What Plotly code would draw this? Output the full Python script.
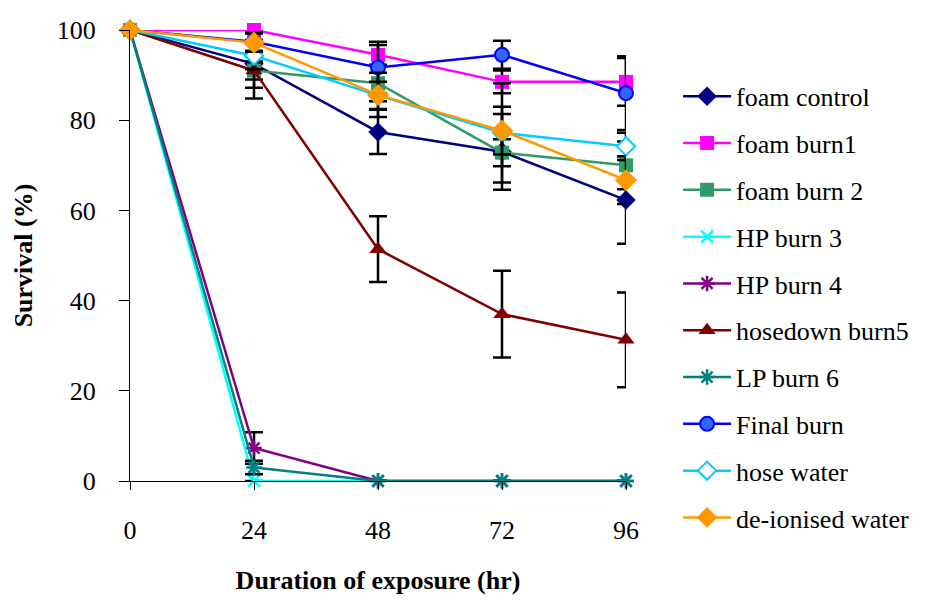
import plotly.graph_objects as go

hours = [0, 24, 48, 72, 96]
tick_labels = ["0", "24", "48", "72", "96"]

series_names = ["foam control", "foam burn1", "foam burn 2", "HP burn 3", "HP burn 4",
                "hosedown burn5", "LP burn 6", "Final burn", "hose water", "de-ionised water"]

foam_control = [100, 92.5, 77.4, 73.0, 62.3]
foam_burn1 = [100, 100, 94.5, 88.5, 88.5]
foam_burn2 = [100, 91.0, 88.2, 72.8, 70.0]
hp_burn3 = [100, 0, 0, 0, 0]
hp_burn4 = [100, 7.3, 0, 0, 0]
hosedown_burn5 = [100, 91.0, 51.4, 37.0, 31.3]
lp_burn6 = [100, 3.0, 0, 0, 0]
final_burn = [100, 97.4, 91.7, 94.5, 86.0]
hose_water = [100, 94.3, 85.5, 77.2, 74.2]
deionised_water = [100, 97.2, 85.6, 77.7, 66.7]

err_foam_control = [0, 5.3, 4.9, 8.4, 9.7]
err_foam_burn1 = [0, 0, 2.2, 2.5, 5.3]
err_foam_burn2 = [0, 2, 4, 3, 5.3]
err_hp_burn3 = [0, 0, 0, 0, 0]
err_hp_burn4 = [0, 3.5, 0, 0, 0]
err_hosedown_burn5 = [0, 6.2, 7.3, 9.6, 10.5]
err_lp_burn6 = [0, 1.5, 0, 0, 0]
err_final_burn = [0, 2, 5.7, 3.1, 8.2]
err_hose_water = [0, 3, 3, 11, 3]
err_deionised_water = [0, 2, 4.9, 5.3, 5.3]

values = [foam_control, foam_burn1, foam_burn2, hp_burn3, hp_burn4,
          hosedown_burn5, lp_burn6, final_burn, hose_water, deionised_water]
errors = [err_foam_control, err_foam_burn1, err_foam_burn2, err_hp_burn3, err_hp_burn4,
          err_hosedown_burn5, err_lp_burn6, err_final_burn, err_hose_water, err_deionised_water]

styles = [
    dict(line="#000080", symbol="diamond", fill="#000080", border="#000080", size=15),
    dict(line="#FF00FF", symbol="square", fill="#FF00FF", border="#FF00FF", size=14),
    dict(line="#339966", symbol="square", fill="#339966", border="#339966", size=14),
    dict(line="#00FFFF", symbol="x-thin-open", fill="#00FFFF", border="#00FFFF", size=12),
    dict(line="#800080", symbol="asterisk-open", fill="#800080", border="#800080", size=13),
    dict(line="#800000", symbol="triangle-up", fill="#800000", border="#800000", size=15),
    dict(line="#008080", symbol="asterisk-open", fill="#008080", border="#008080", size=13),
    dict(line="#0000FF", symbol="circle", fill="#3366FF", border="#0000FF", size=14),
    dict(line="#00CCFF", symbol="diamond", fill="#FFFFFF", border="#00CCFF", size=14),
    dict(line="#FF9900", symbol="diamond", fill="#FF9900", border="#FF9900", size=17),
]

FONT = "Liberation Serif"
FS = 26
fig = go.Figure()
for i, (name, vals, errs, st) in enumerate(zip(series_names, values, errors, styles)):
    open_sym = st["symbol"].endswith("open")
    fig.add_trace(go.Scatter(
        x=hours, y=vals, name=name, mode="lines+markers",
        legendgroup=f"g{i}",
        line=dict(color=st["line"], width=2.5),
        marker=dict(symbol=st["symbol"], size=st["size"], color=st["fill"],
                    line=dict(color=st["border"], width=2.5 if open_sym else (2 if st["fill"] != st["border"] else 0))),
        error_y=dict(type="data", array=errs, visible=True, color="black", thickness=2.5, width=9),
        cliponaxis=False,
    ))

fig.update_layout(
    width=952, height=601,
    margin=dict(l=130, r=326, t=30, b=118),
    paper_bgcolor="white", plot_bgcolor="white",
    font=dict(family=FONT, size=FS, color="black"),
    showlegend=True,
    legend=dict(x=1.105, y=0.905, xanchor="left", yanchor="top", maxheight=560,
                font=dict(family=FONT, size=FS, color="black"),
                tracegroupgap=10, itemwidth=48, bgcolor="rgba(0,0,0,0)"),
    xaxis=dict(range=[0, 96], tickvals=hours, ticktext=tick_labels,
               showline=True, linecolor="black", linewidth=1,
               ticks="outside", ticklen=8, tickcolor="black",
               showgrid=False, zeroline=False, ticklabelstandoff=18,
               tickfont=dict(family=FONT, size=FS),
               title=dict(text="<b>Duration of exposure (hr)</b>", standoff=26,
                          font=dict(family=FONT, size=FS))),
    yaxis=dict(range=[0, 100], tickvals=[0, 20, 40, 60, 80, 100],
               showline=True, linecolor="black", linewidth=1,
               ticks="outside", ticklen=10, tickcolor="black",
               showgrid=False, zeroline=False, ticklabelstandoff=18,
               tickfont=dict(family=FONT, size=FS),
               title=dict(text="<b>Survival (%)</b>", standoff=16,
                          font=dict(family=FONT, size=FS))),
)

fig.write_html("out.html")
